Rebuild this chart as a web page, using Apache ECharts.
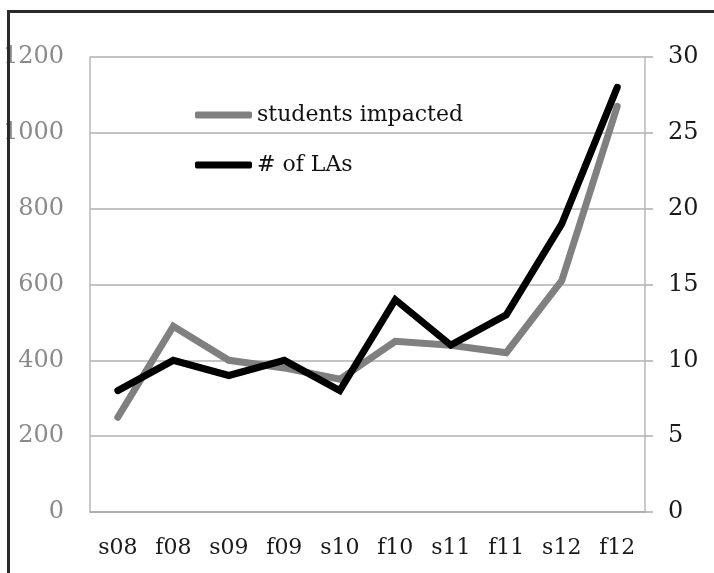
<!DOCTYPE html>
<html><head><meta charset="utf-8">
<script src="https://cdn.jsdelivr.net/npm/echarts@6/dist/echarts.min.js"></script>
<style>html,body{margin:0;padding:0;background:#fff}#c{width:714px;height:573px}</style>
</head><body><div id="c"></div>
<script>
const categories = ['s08','f08','s09','f09','s10','f10','s11','f11','s12','f12'];
const studentsImpacted = [250, 490, 400, 380, 350, 450, 440, 420, 610, 1070];
const numLAs = [8, 10, 9, 10, 8, 14, 11, 13, 19, 28];
const leftTicks = [0, 200, 400, 600, 800, 1000, 1200];
const rightTicks = [0, 5, 10, 15, 20, 25, 30];

const FONT = 'DejaVu Serif';
const chart = echarts.init(document.getElementById('c'), null, {renderer: 'canvas'});
chart.setOption({
  backgroundColor: '#fff',
  animation: false,
  grid: {left: 88, right: 69, top: 57, bottom: 61, containLabel: false},
  legend: {
    orient: 'vertical', left: 190, top: 96, itemWidth: 57, itemHeight: 7, itemGap: 22,
    icon: 'roundRect',
    textStyle: {fontFamily: FONT, fontSize: 22, color: '#111', lineHeight: 28},
    data: ['students impacted', '# of LAs']
  },
  xAxis: {
    type: 'category', data: categories, boundaryGap: true,
    axisLine: {lineStyle: {color: '#a8a8a8', width: 1.5}},
    axisTick: {show: false},
    axisLabel: {fontFamily: FONT, fontSize: 22, color: '#1a1a1a', margin: 25}
  },
  yAxis: [
    {type: 'value', min: leftTicks[0], max: leftTicks[leftTicks.length-1], interval: 200, position: 'left',
     axisLine: {show: true, lineStyle: {color: '#b8b8b8', width: 1.5}},
     axisTick: {show: false},
     splitLine: {lineStyle: {color: '#b0b0b0', width: 1.5}},
     axisLabel: {fontFamily: FONT, fontSize: 24, color: '#8a8a8a', margin: 26, formatter: v => String(v)}},
    {type: 'value', min: rightTicks[0], max: rightTicks[rightTicks.length-1], interval: 5, position: 'right',
     axisLine: {show: true, lineStyle: {color: '#b8b8b8', width: 1.5}},
     axisTick: {show: true, length: 8, lineStyle: {color: '#b0b0b0', width: 1.5}},
     splitLine: {show: false},
     axisLabel: {fontFamily: FONT, fontSize: 24, color: '#1a1a1a', margin: 23, formatter: v => String(v)}}
  ],
  series: [
    {name: 'students impacted', type: 'line', yAxisIndex: 0, data: studentsImpacted,
     showSymbol: false, symbol: 'none', lineStyle: {color: '#808080', width: 7, cap: 'round', join: 'miter'},
     itemStyle: {color: '#808080'}},
    {name: '# of LAs', type: 'line', yAxisIndex: 1, data: numLAs,
     showSymbol: false, symbol: 'none', lineStyle: {color: '#000', width: 7, cap: 'round', join: 'miter'},
     itemStyle: {color: '#000'}}
  ],
  graphic: [
    {type: 'rect', z: 100, shape: {x: 8.5, y: 11.5, width: 720, height: 600},
     style: {fill: 'none', stroke: '#2a2a2a', lineWidth: 3}}
  ]
});
</script></body></html>
